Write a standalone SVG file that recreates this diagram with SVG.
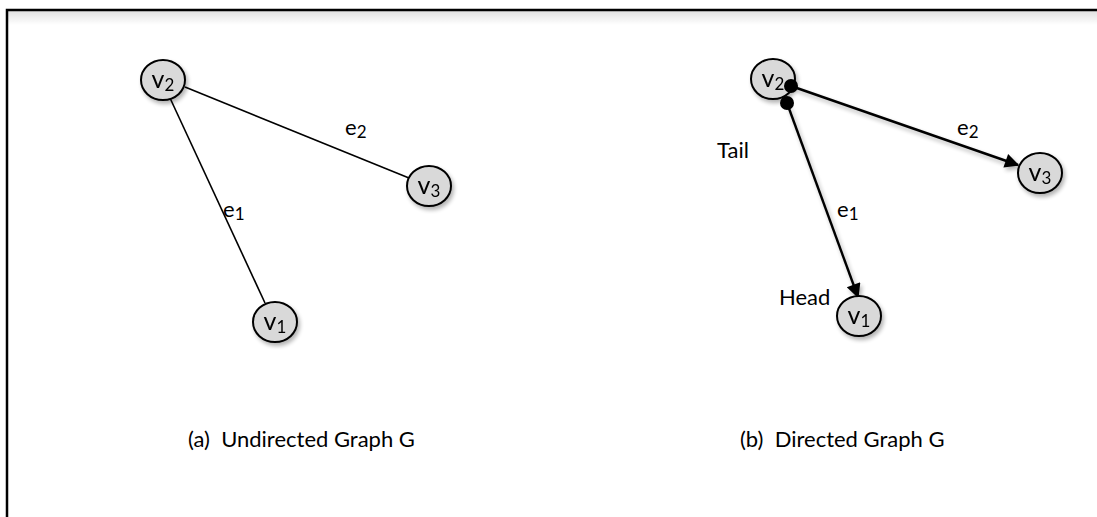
<svg xmlns="http://www.w3.org/2000/svg" width="1097" height="517" viewBox="0 0 1097 517">
<defs>
<filter id="sh" x="-20%" y="-20%" width="150%" height="150%">
<feGaussianBlur in="SourceAlpha" stdDeviation="2"/>
<feOffset dx="2" dy="3" result="o"/>
<feComponentTransfer><feFuncA type="linear" slope="0.3"/></feComponentTransfer>
<feMerge><feMergeNode/><feMergeNode in="SourceGraphic"/></feMerge>
</filter>
<marker id="arr" viewBox="0 0 10 10" refX="9" refY="5" markerWidth="7.5" markerHeight="6" orient="auto" markerUnits="strokeWidth">
<path d="M0,0 L10,5 L0,10 z" fill="#000"/>
</marker>
<linearGradient id="topsh" x1="0" y1="0" x2="0" y2="1">
<stop offset="0" stop-color="#000" stop-opacity="0.12"/>
<stop offset="1" stop-color="#000" stop-opacity="0"/>
</linearGradient>
</defs>
<style>
.node ellipse{fill:#d9d9d9;stroke:#000;stroke-width:2}
.lbl{font-family:Lato,"Liberation Sans",sans-serif;font-size:22px;fill:#000}
.nl{font-family:Lato,"Liberation Sans",sans-serif;font-size:25px;fill:#000;text-anchor:middle}
.sub{font-size:17px}
.edge{stroke:#000;stroke-width:1.6;fill:none}
.dedge{stroke:#000;stroke-width:2.4;fill:none}
</style>
<rect width="1097" height="517" fill="#fff"/>
<rect x="8" y="11" width="1089" height="14" fill="url(#topsh)"/>
<path d="M7,517 V10 H1097" fill="none" stroke="#000" stroke-width="2.5"/>

<g id="connectors">
<line class="edge" x1="185" y1="87" x2="409" y2="178"/>
<line class="edge" x1="170" y1="98" x2="265" y2="303"/>
<line class="dedge" x1="791" y1="86" x2="1018" y2="165" marker-end="url(#arr)" filter="url(#sh)"/>
<line class="dedge" x1="787" y1="103" x2="858" y2="297" marker-end="url(#arr)" filter="url(#sh)"/>
</g>

<g id="a-v2" class="node" filter="url(#sh)"><ellipse cx="163" cy="80" rx="22" ry="20"/><text class="nl" x="163" y="88">v<tspan class="sub" dy="3">2</tspan></text></g>
<g id="a-v3" class="node" filter="url(#sh)"><ellipse cx="429" cy="186" rx="22" ry="20"/><text class="nl" x="429" y="194">v<tspan class="sub" dy="3">3</tspan></text></g>
<g id="a-v1" class="node" filter="url(#sh)"><ellipse cx="275" cy="322" rx="22" ry="20"/><text class="nl" x="275" y="330">v<tspan class="sub" dy="3">1</tspan></text></g>

<g id="b-v2" class="node" filter="url(#sh)"><ellipse cx="773" cy="79" rx="22" ry="20"/><text class="nl" x="773" y="87">v<tspan class="sub" dy="3">2</tspan></text></g>
<g id="b-v3" class="node" filter="url(#sh)"><ellipse cx="1040" cy="173" rx="22" ry="20"/><text class="nl" x="1040" y="181">v<tspan class="sub" dy="3">3</tspan></text></g>
<g id="b-v1" class="node" filter="url(#sh)"><ellipse cx="859" cy="316" rx="22" ry="20"/><text class="nl" x="859" y="324">v<tspan class="sub" dy="3">1</tspan></text></g>

<g id="endpoints">
<circle cx="791" cy="86" r="7" fill="#000"/>
<circle cx="787" cy="103" r="7" fill="#000"/>
</g>

<g id="labels">
<text class="lbl" x="345" y="135">e<tspan class="sub" dy="3">2</tspan></text>
<text class="lbl" x="223" y="217">e<tspan class="sub" dy="3">1</tspan></text>
<text class="lbl" x="957" y="135">e<tspan class="sub" dy="3">2</tspan></text>
<text class="lbl" x="837" y="217">e<tspan class="sub" dy="3">1</tspan></text>
<text class="lbl" x="717" y="158">Tail</text>
<text class="lbl" x="779" y="305">Head</text>
<text class="lbl" x="188" y="447" xml:space="preserve">(a)  Undirected Graph G</text>
<text class="lbl" x="740" y="447" xml:space="preserve">(b)  Directed Graph G</text>
</g>
</svg>
